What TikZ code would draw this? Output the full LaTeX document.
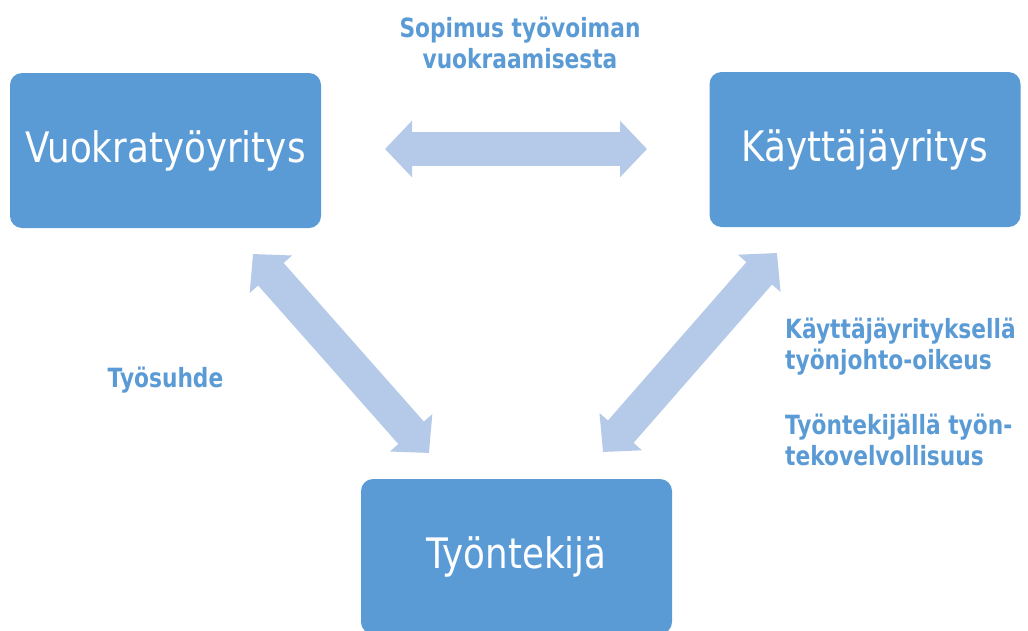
\documentclass[tikz,border=0pt]{standalone}
\usepackage{fontspec}
\setmainfont{DejaVu Sans}[FakeStretch=0.85]
\newfontfamily\lblfont{DejaVu Sans}[FakeStretch=0.82]
\usetikzlibrary{arrows.meta}
\definecolor{boxblue}{HTML}{5B9BD5}
\definecolor{arrowblue}{HTML}{B4CAE8}
\definecolor{lblblue}{HTML}{5B9BD5}
\tikzset{
  box/.style={fill=boxblue, rounded corners=12pt, text=white, inner sep=0pt,
    minimum width=311pt, minimum height=155pt, font=\fontsize{42}{50}\selectfont},
  lbl/.style={text=lblblue, inner sep=0pt, font=\lblfont\bfseries\fontsize{26.5}{31}\selectfont},
  conn/.style={draw=arrowblue, line width=34pt,
    {Triangle[width=55pt,length=27pt]}-{Triangle[width=55pt,length=27pt]}}
}
\begin{document}
\begin{tikzpicture}[x=1pt,y=-1pt]
\useasboundingbox (0,0) rectangle (1028,630);
\clip (0,0) rectangle (1028,630);
\node[box] (vuokra) at (165.5,150.5) {Vuokratyöyritys};
\node[box] (kayt) at (865,149.5) {Käyttäjäyritys};
\node[box] (tyo) at (516.5,556.5) {Työntekijä};
\coordinate (h1) at (385,149);
\coordinate (h2) at (647,149);
\coordinate (d1) at (253,254);
\coordinate (d2) at (429,453);
\coordinate (e1) at (777,253);
\coordinate (e2) at (603,452);
\draw[conn] (h1) -- (h2);
\draw[conn] (d1) -- (d2);
\draw[conn] (e1) -- (e2);
\node[lbl, align=center] (sop) at (520,42.5) {Sopimus työvoiman\\vuokraamisesta};
\node[lbl] (tyosuhde) at (165.5,380) {Työsuhde};
\node[lbl, align=left, anchor=west] (r1) at (785,347) {Käyttäjäyrityksellä\\työnjohto-oikeus};
\node[lbl, align=left, anchor=west] (r2) at (785,440) {Työntekijällä työn-\\tekovelvollisuus};
\end{tikzpicture}
\end{document}
